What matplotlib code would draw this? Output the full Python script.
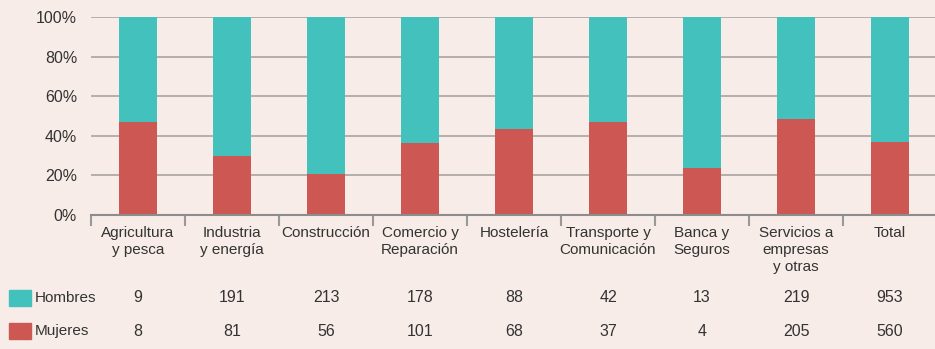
import numpy as np
import matplotlib.pyplot as plt
from matplotlib.patches import Rectangle
from matplotlib.transforms import blended_transform_factory

# Sector data: counts of men and women
sectores = ["Agricultura\ny pesca", "Industria\ny energía", "Construcción",
            "Comercio y\nReparación", "Hostelería", "Transporte y\nComunicación",
            "Banca y\nSeguros", "Servicios a\nempresas\ny otras", "Total"]
hombres = [9, 191, 213, 178, 88, 42, 13, 219, 953]
mujeres = [8, 81, 56, 101, 68, 37, 4, 205, 560]

bg = "#F7ECE7"
teal = "#43C1BD"
red = "#CD5752"
txt = "#333333"
fs = 11

plt.rcParams['font.family'] = ['Liberation Sans', 'DejaVu Sans']

W, H = 935, 349
fig = plt.figure(figsize=(W / 100, H / 100), dpi=100, facecolor=bg)
ax = fig.add_axes([91 / W, (H - 215) / H, (937 - 91) / W, (215 - 17) / H])
ax.set_facecolor(bg)

h = np.array(hombres, dtype=float)
m = np.array(mujeres, dtype=float)
tot = h + m
pm = m / tot * 100
ph = h / tot * 100
x = np.arange(len(sectores))

for y in [20, 40, 60, 80, 100]:
    ax.axhline(y, color="#A8A4A2", lw=1.2, zorder=0)

ax.bar(x, pm, width=0.4, color=red, zorder=2)
ax.bar(x, ph, bottom=pm, width=0.4, color=teal, zorder=2)

ax.set_xlim(-0.5, len(sectores) - 0.5)
ax.set_ylim(0, 100)
ax.set_yticks([0, 20, 40, 60, 80, 100])
ax.set_yticklabels([f"{v}%" for v in range(0, 101, 20)], fontsize=fs + 0.5, color=txt)
ax.tick_params(axis="y", length=0, pad=10)
ax.set_xticks(np.arange(-0.5, len(sectores), 1))
ax.set_xticklabels([])
ax.tick_params(axis="x", length=8, width=1.5, color="#999999")
for s in ["top", "right", "left"]:
    ax.spines[s].set_visible(False)
ax.spines["bottom"].set_color("#8C8C8C")
ax.spines["bottom"].set_linewidth(1.5)

# Category labels and table of counts under the axis
tr = blended_transform_factory(ax.transData, fig.transFigure)
for i, lab in enumerate(sectores):
    ax.text(i, 1 - 226 / H, lab, transform=tr, ha="center", va="top",
            fontsize=fs, color=txt, linespacing=1.25, clip_on=False)
    ax.text(i, 1 - 298 / H, str(hombres[i]), transform=tr, ha="center",
            va="center", fontsize=fs + 0.5, color=txt, clip_on=False)
    ax.text(i, 1 - 331 / H, str(mujeres[i]), transform=tr, ha="center",
            va="center", fontsize=fs + 0.5, color=txt, clip_on=False)

for yc, col, name in [(298, teal, "Hombres"), (331, red, "Mujeres")]:
    fig.patches.append(Rectangle((9 / W, 1 - (yc + 8) / H), 22 / W, 16 / H,
                                 transform=fig.transFigure, color=col))
    fig.text(35 / W, 1 - yc / H, name, ha="left", va="center",
             fontsize=fs, color=txt)

fig.savefig("out.png", dpi=100, facecolor=bg)
